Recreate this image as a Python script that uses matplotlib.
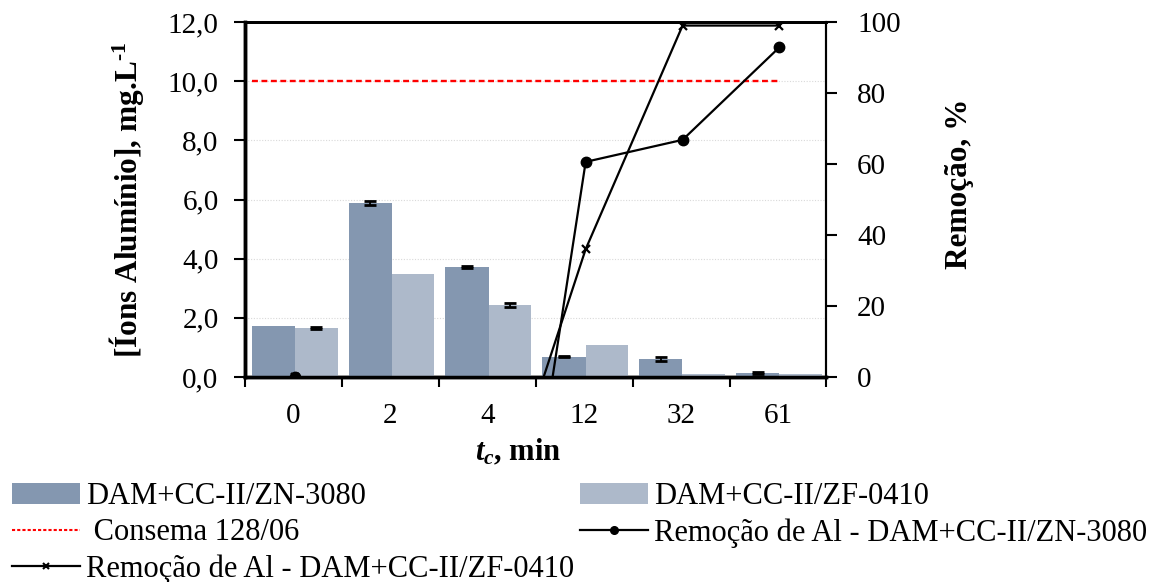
import matplotlib
matplotlib.use("Agg")
import matplotlib.pyplot as plt
from matplotlib.lines import Line2D
from matplotlib.patches import Patch
import numpy as np

plt.rcParams['font.family'] = ['Liberation Serif', 'DejaVu Serif']
plt.rcParams['mathtext.fontset'] = 'custom'
plt.rcParams['mathtext.rm'] = 'Liberation Serif:bold'
plt.rcParams['mathtext.it'] = 'Liberation Serif:italic:bold'
plt.rcParams['mathtext.bf'] = 'Liberation Serif:bold'

# ---- data ----
categories = ["0", "2", "4", "12", "32", "61"]
al_zn = [1.72, 5.88, 3.73, 0.68, 0.60, 0.14]        # DAM+CC-II/ZN-3080
al_zn_err = [0.0, 0.07, 0.03, 0.02, 0.07, 0.03]
al_zf = [1.65, 3.49, 2.42, 1.07, 0.10, 0.09]        # DAM+CC-II/ZF-0410
al_zf_err = [0.03, 0.0, 0.07, 0.0, 0.0, 0.0]
consema_limit = 10.0
rem_zn = [0.0, -242.0, -117.0, 60.6, 66.8, 92.9]    # Remoção de Al - ZN-3080 (%)
rem_zf = [0.0, -111.0, -47.0, 36.0, 99.0, 99.0]     # Remoção de Al - ZF-0410 (%)

labels = ["DAM+CC-II/ZN-3080", "DAM+CC-II/ZF-0410", " Consema 128/06",
          "Remoção de Al - DAM+CC-II/ZN-3080", "Remoção de Al - DAM+CC-II/ZF-0410"]

c_dark = "#8497B0"
c_light = "#ADB9CA"

W, H = 1153, 582
fig = plt.figure(figsize=(W / 100, H / 100), dpi=100)
ax = fig.add_axes([245 / W, 1 - 377 / H, (826.5 - 245) / W, (377 - 22) / H])
ax2 = ax.twinx()

x = np.arange(len(categories))
ax.set_zorder(1)
ax2.set_zorder(2)
ax.patch.set_visible(False)

ax.bar(x - 0.209, al_zn, width=0.446, color=c_dark, zorder=3)
ax.bar(x + 0.234, al_zf, width=0.441, color=c_light, zorder=3)

for xi, v, e in zip(x - 0.209, al_zn, al_zn_err):
    if e > 0:
        ax.errorbar(xi, v, yerr=e, fmt='none', ecolor='black', elinewidth=1.3,
                    capsize=4.5, capthick=2, zorder=4)
for xi, v, e in zip(x + 0.234, al_zf, al_zf_err):
    if e > 0:
        ax.errorbar(xi, v, yerr=e, fmt='none', ecolor='black', elinewidth=1.3,
                    capsize=4.5, capthick=2, zorder=4)

ax.plot([-0.432, 5.015], [consema_limit, consema_limit], color='red',
        lw=1.7, linestyle=(0, (2.5, 1.5)), zorder=4)

ax.set_ylim(0, 12)
ax.set_yticks(np.arange(0, 12.1, 2))
ax.set_yticklabels([f"{v:.1f}".replace('.', ',') for v in np.arange(0, 12.1, 2)])
ax.yaxis.grid(True, color='#d9d9d9', linestyle=(0, (1, 1.5)), lw=0.8)
ax.set_axisbelow(True)
ax.set_xlim(-0.5, 5.5)
ax.set_xticks(x)
ax.set_xticklabels(categories)
ax.set_xticks(np.arange(-0.5, 5.6, 1), minor=True)
ax.tick_params(axis='x', which='major', length=0, labelsize=21, pad=19)
ax.tick_params(axis='x', which='minor', length=7, width=1.5, direction='out')
ax.tick_params(axis='y', length=8, width=1.5, direction='out', labelsize=21, pad=11)

ax2.plot(x + 0.015, rem_zn, color='black', lw=1.6, marker='o', markersize=7.5,
         clip_on=True, zorder=5)
ax2.plot(x + 0.015, rem_zf, color='black', lw=1.6, marker='x', markersize=6,
         markeredgewidth=1.6, clip_on=True, zorder=5)
ax2.set_ylim(0, 100)
ax2.set_yticks(np.arange(0, 101, 20))
ax2.tick_params(axis='y', length=8, width=1.5, direction='out', labelsize=21, pad=14)

for a in (ax, ax2):
    for s in a.spines.values():
        s.set_color('black')
    a.spines['left'].set_linewidth(2.5)
    a.spines['bottom'].set_linewidth(2.5)
    a.spines['top'].set_linewidth(2.0)
    a.spines['right'].set_linewidth(1.5)

fig.text(127 / W, 1 - 200 / H, r"[Íons Alumínio], mg.L$^{\mathbf{‐1}}$", rotation=90,
         ha='center', va='center', fontsize=22.5, fontweight='bold')
fig.text(960 / W, 1 - 184 / H, "Remoção, %", rotation=90,
         ha='center', va='center', fontsize=22.5, fontweight='bold')
fig.text(518 / W, 1 - 452 / H, r"$t_c$, min", ha='center', va='center',
         fontsize=22, fontweight='bold')

h_dark = Patch(facecolor=c_dark, edgecolor='none')
h_light = Patch(facecolor=c_light, edgecolor='none')
h_red = Line2D([], [], color='red', lw=1.5, linestyle=(0, (1.5, 1)))
h_zn = Line2D([], [], color='black', lw=1.6, marker='o', markersize=5.5)
h_zf = Line2D([], [], color='black', lw=1.6, marker='x', markersize=5, markeredgewidth=1.5)

common = dict(frameon=False, fontsize=22, handlelength=2.23, handletextpad=0.2,
              labelspacing=0.24, borderpad=0, borderaxespad=0, loc='upper left',
              handleheight=0.7)
fig.legend([h_dark, h_red, h_zf], [labels[0], labels[2], labels[4]],
           bbox_to_anchor=(12 / W, 1 - 482 / H), **common)
fig.legend([h_light, h_zn], [labels[1], labels[3]],
           bbox_to_anchor=(580 / W, 1 - 482 / H), **common)

fig.savefig("out.png", dpi=100)
